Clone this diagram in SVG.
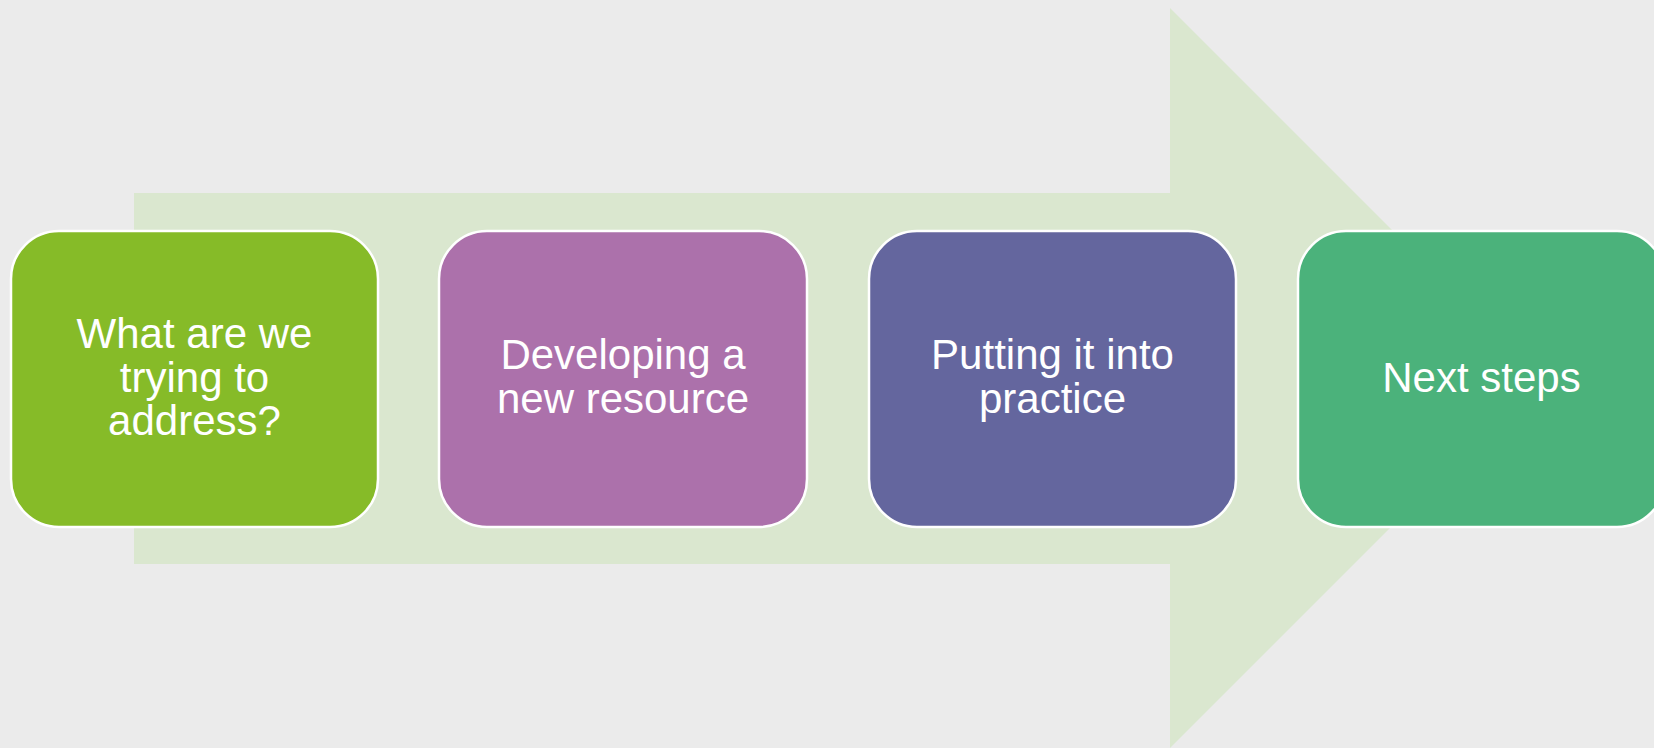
<svg xmlns="http://www.w3.org/2000/svg" width="1654" height="748" viewBox="0 0 1654 748">
  <style>
    .step { stroke: #ffffff; stroke-width: 2.5; }
    .label { font-family: "Liberation Sans", Arial, sans-serif; font-size: 42px; fill: #ffffff; text-anchor: middle; }
  </style>
  <rect x="0" y="0" width="1654" height="748" fill="#ebebeb"/>

  <!-- Background process arrow -->
  <g id="connectors">
    <polygon points="134,193 1170,193 1170,8 1540,378 1170,748 1170,564 134,564" fill="#dae7cf"/>
  </g>

  <g id="step1">
    <rect class="step" x="11" y="231" width="367" height="296" rx="48" ry="48" fill="#86bb28"/>
    <text class="label" x="194.5" y="348">What are we</text>
    <text class="label" x="194.5" y="392">trying to</text>
    <text class="label" x="194.5" y="435">address?</text>
  </g>

  <g id="step2">
    <rect class="step" x="439" y="231" width="368" height="296" rx="48" ry="48" fill="#ac71ab"/>
    <text class="label" x="623" y="369">Developing a</text>
    <text class="label" x="623" y="413">new resource</text>
  </g>

  <g id="step3">
    <rect class="step" x="869" y="231" width="367" height="296" rx="48" ry="48" fill="#64669e"/>
    <text class="label" x="1052.5" y="369">Putting it into</text>
    <text class="label" x="1052.5" y="413">practice</text>
  </g>

  <g id="step4">
    <rect class="step" x="1298" y="231" width="367" height="296" rx="48" ry="48" fill="#4bb27b"/>
    <text class="label" x="1481.5" y="392">Next steps</text>
  </g>
</svg>
